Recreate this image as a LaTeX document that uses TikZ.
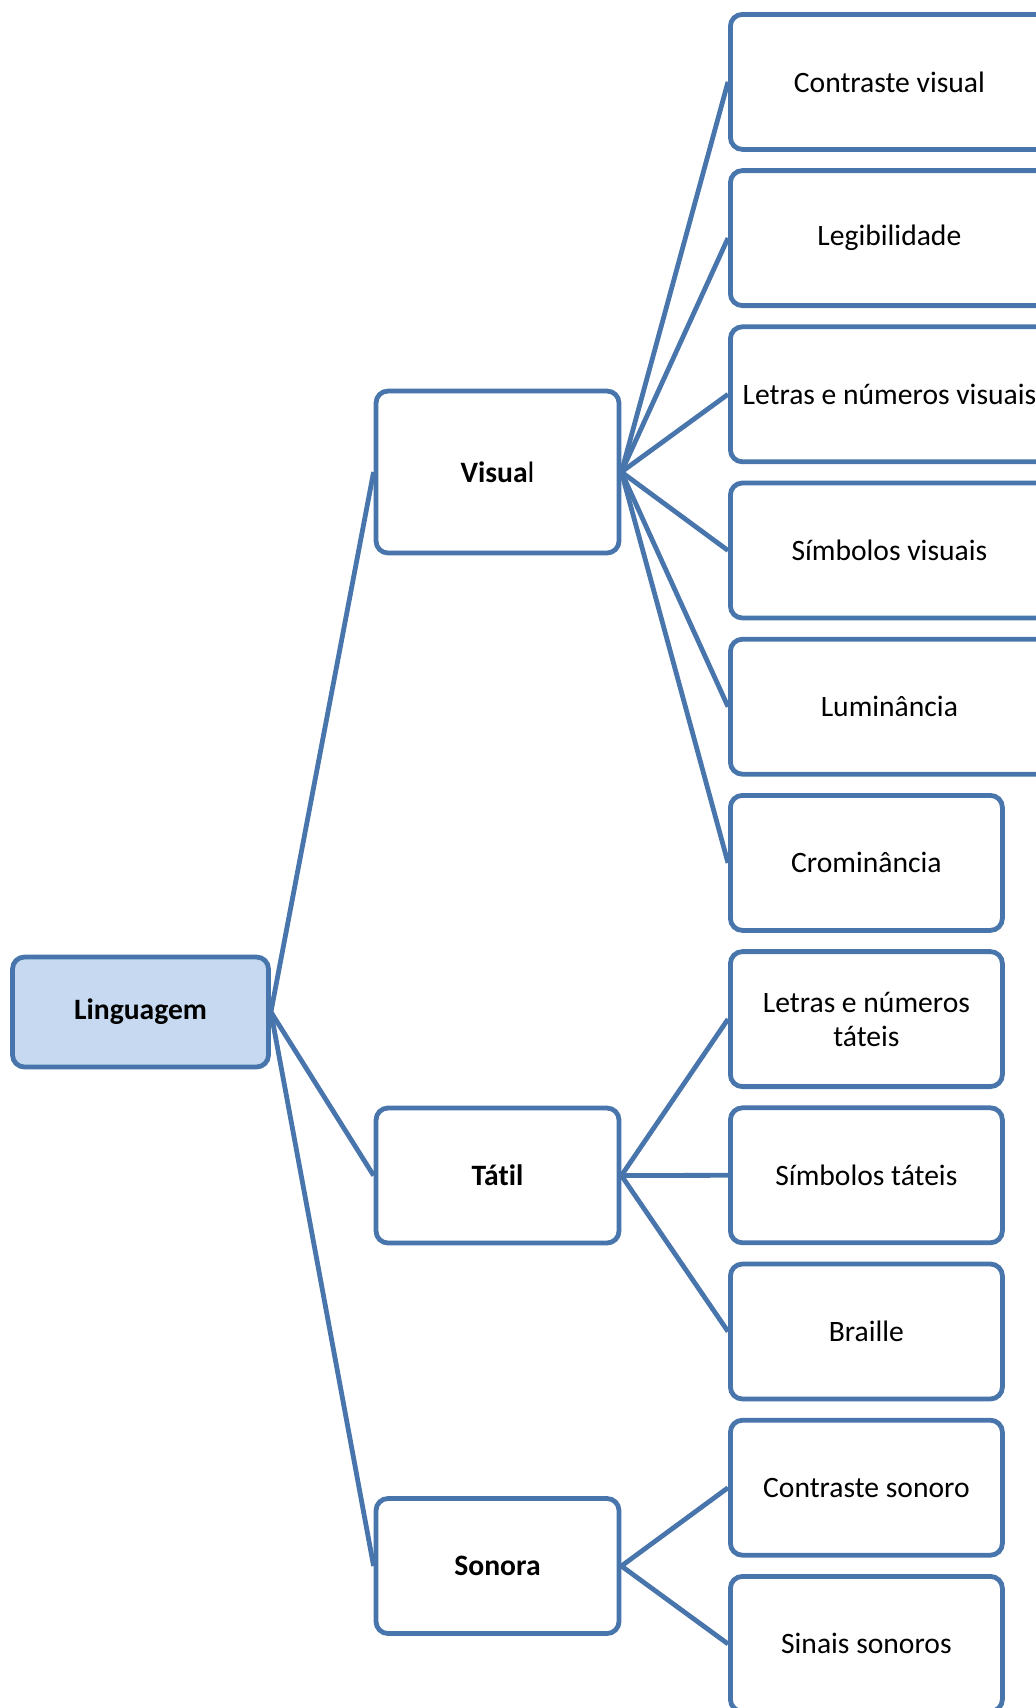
\documentclass[tikz,border=0pt]{standalone}
\usepackage{fontspec}
\setmainfont{Carlito}[Ligatures=NoCommon]
\usetikzlibrary{positioning}
\definecolor{linha}{RGB}{72,117,171}
\definecolor{fundo}{RGB}{198,217,241}
\tikzset{box/.style={draw=linha, line width=2.4pt, rounded corners=6pt, align=center,
        font=\fontsize{14.8}{17}\selectfont, inner sep=2pt}}
\tikzstyle{root} = [box, fill=fundo, minimum width=128pt, minimum height=55pt]
\tikzstyle{mid} = [box, minimum width=121.5pt, minimum height=67.5pt]
\tikzstyle{leafw} = [box, minimum width=159pt, minimum height=67.5pt]
\tikzstyle{leaf} = [box, minimum width=136pt, minimum height=67.5pt]
\tikzstyle{link} = [draw=linha, line width=2.4pt]

\begin{document}
\begin{tikzpicture}[x=0.5pt, y=0.5pt]
    \useasboundingbox (0,0) rectangle (1035,-1708);

    \node [root] (ling) at (140.5,-1012) {\textbf{Linguagem}};
    \node [mid, minimum height=81pt] (vis) at (497.5,-472) {\textbf{Visua}l};
    \node [mid] (tat) at (497.5,-1175.5) {\textbf{Tátil}};
    \node [mid] (son) at (497.5,-1566) {\textbf{Sonora}};

    \node [leafw, anchor=north west] (cv) at (728,-12) {Contraste visual};
    \node [leafw, below=8.2pt of cv.south west, anchor=north west] (leg) {Legibilidade};
    \node [leafw, below=8.2pt of leg.south west, anchor=north west] (lnv) {Letras e números visuais};
    \node [leafw, below=8.2pt of lnv.south west, anchor=north west] (sv) {Símbolos visuais};
    \node [leafw, below=8.2pt of sv.south west, anchor=north west] (lum) {Luminância};
    \node [leaf, below=8.2pt of lum.south west, anchor=north west] (crom) {Crominância};
    \node [leaf, below=8.2pt of crom.south west, anchor=north west] (lnt) {Letras e números\\táteis};
    \node [leaf, below=8.2pt of lnt.south west, anchor=north west] (st) {Símbolos táteis};
    \node [leaf, below=8.2pt of st.south west, anchor=north west] (bra) {Braille};
    \node [leaf, below=8.2pt of bra.south west, anchor=north west] (cs) {Contraste sonoro};
    \node [leaf, below=8.2pt of cs.south west, anchor=north west] (ss) {Sinais sonoros};

    \draw [link] (ling.east) -- (vis.west);
    \draw [link] (ling.east) -- (tat.west);
    \draw [link] (ling.east) -- (son.west);

    \foreach \n in {cv,leg,lnv,sv,lum,crom}
        \draw [link] (vis.east) -- (\n.west);
    \foreach \n in {lnt,st,bra}
        \draw [link] (tat.east) -- (\n.west);
    \foreach \n in {cs,ss}
        \draw [link] (son.east) -- (\n.west);
\end{tikzpicture}
\end{document}
